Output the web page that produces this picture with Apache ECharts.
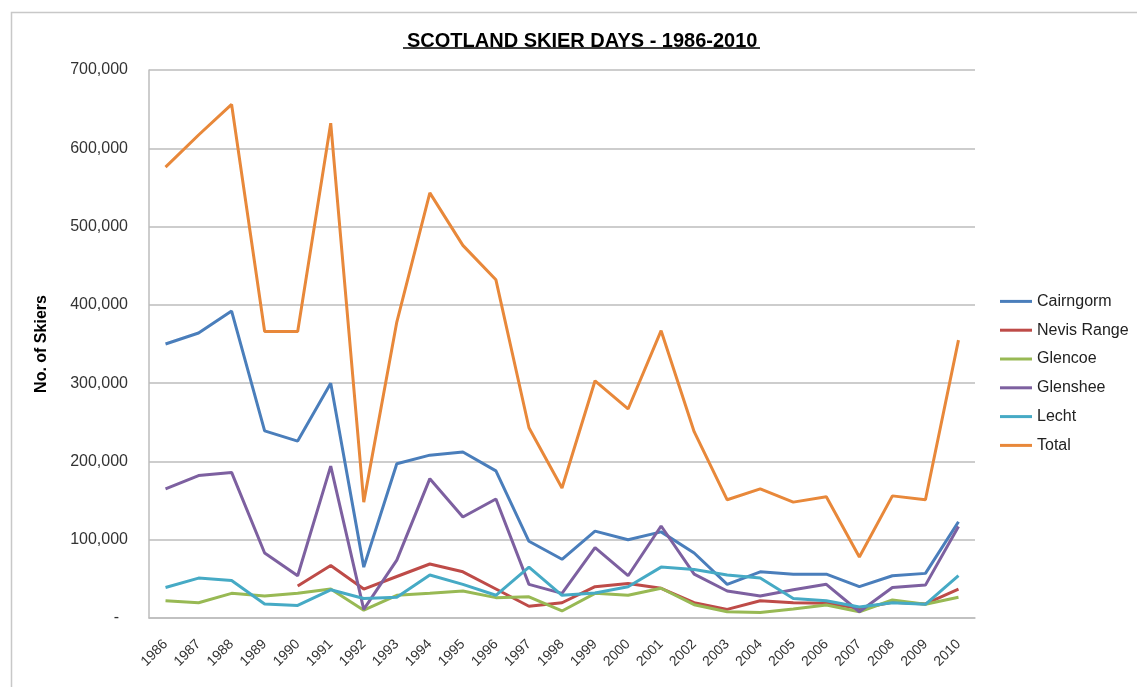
<!DOCTYPE html>
<html>
<head>
<meta charset="utf-8">
<script src="https://cdn.jsdelivr.net/npm/echarts@6/dist/echarts.min.js"></script>
<style>html,body{margin:0;padding:0;background:#fff;}#c{width:1137px;height:687px;}</style>
</head>
<body>
<div id="c"></div>
<script>
const years = ['1986','1987','1988','1989','1990','1991','1992','1993','1994','1995','1996','1997','1998','1999','2000','2001','2002','2003','2004','2005','2006','2007','2008','2009','2010'];
const cairngorm = [350000,364000,392000,239000,226000,300000,65000,197000,208000,212000,188000,98000,75000,111000,100000,110000,83000,43000,59000,56000,56000,40000,54000,57000,123000];
const nevisRange = [null,null,null,null,41000,67000,37000,53000,69000,59000,37000,15000,19500,40000,44000,38000,19500,11000,22000,19500,19000,12000,20000,18000,37000];
const glencoe = [22000,19500,31500,28000,31500,37000,10000,29000,31500,34500,26000,27000,9000,31500,29000,38000,17000,8000,7000,11500,16500,8000,23000,17500,26500];
const glenshee = [165000,182000,186000,83000,54000,194000,11000,74000,178000,129000,152000,43000,31500,90000,54000,117500,56000,34500,28000,36000,43000,8000,39000,42000,117000];
const lecht = [39000,51000,48000,18000,16000,36000,25000,26500,55000,43000,29000,65000,29000,32000,40000,65000,62000,55000,51000,25000,22000,14000,19500,17500,54000];
const total = [576000,617000,656000,366000,366000,632000,148000,378000,543000,476000,432000,243000,166000,303000,267000,367000,238000,151000,165000,148000,155000,78000,156000,151000,355000];
const seriesNames = ['Cairngorm','Nevis Range','Glencoe','Glenshee','Lecht','Total'];
const seriesData = [cairngorm, nevisRange, glencoe, glenshee, lecht, total];
const colors = ['#4A7EBB','#BE4B48','#98B954','#7D60A0','#46AAC5','#E8883A'];

const chart = echarts.init(document.getElementById('c'), null, {renderer:'canvas'});
const font = 'Liberation Sans, Arial, sans-serif';
chart.setOption({
  animation:false,
  color: colors,
  title: {
    text: 'SCOTLAND SKIER DAYS - 1986-2010',
    left: 402, top: 26,
    textStyle: {fontFamily: font, fontSize: 20, fontWeight: 'bold', color: '#000'}
  },
  graphic: [
    {type:'rect', shape:{x:11.5,y:12.5,width:1140,height:700}, style:{fill:'none', stroke:'#c8c8c8', lineWidth:1.5}, silent:true},
    {type:'line', shape:{x1:403,y1:48,x2:760,y2:48}, style:{stroke:'#000', lineWidth:1.5}, silent:true}
  ],
  legend: {
    orient:'vertical', left: 995, top: 288,
    icon: 'rect',
    itemWidth: 32, itemHeight: 3, itemGap: 12,
    textStyle: {fontFamily: font, fontSize: 16, lineHeight: 16.8, color: '#222'},
    data: seriesNames
  },
  grid: {left:149, right:162, top:70, bottom:69},
  xAxis: {
    type:'category', data: years, boundaryGap: true,
    axisLine: {lineStyle:{color:'#bdbdbd', width:1.5}},
    axisTick: {show:false},
    axisLabel: {rotate:45, margin:24, fontFamily: font, fontSize: 14, color:'#333', interval:0}
  },
  yAxis: {
    type:'value', min:0, max:700000, interval:100000,
    name: 'No. of Skiers', nameLocation:'middle', nameRotate: 90, nameGap: 99,
    nameTextStyle: {fontFamily: font, fontSize: 16, fontWeight:'bold', color:'#000'},
    axisLine: {show:true, lineStyle:{color:'#bdbdbd', width:1.5}},
    axisTick: {show:false},
    splitLine: {lineStyle:{color:'#bdbdbd', width:1.5}},
    axisLabel: {
      margin: 21, fontFamily: font, fontSize: 16, color:'#333',
      formatter: v => v === 0 ? '-  ' : v.toLocaleString('en-US')
    }
  },
  series: seriesNames.map((n,i) => ({
    name: n, type:'line', data: seriesData[i], symbol:'none',
    lineStyle: {width: 3, color: colors[i]},
    itemStyle: {color: colors[i]}
  }))
});
</script>
</body>
</html>
